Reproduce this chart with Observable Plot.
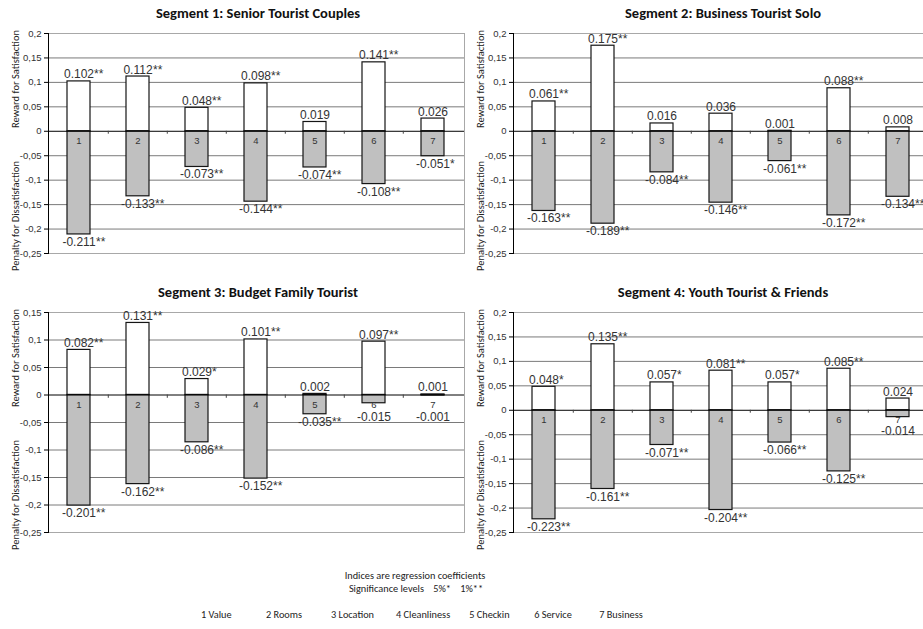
<!DOCTYPE html>
<html>
<head>
<meta charset="utf-8">
<script src="https://cdn.jsdelivr.net/npm/d3@7"></script>
<script src="https://cdn.jsdelivr.net/npm/@observablehq/plot@0.6"></script>
<style>
  body { margin: 0; background: #fff; }
  #root { position: relative; width: 923px; height: 629px; overflow: hidden; background: #fff;
          font-family: Carlito, Lato, "Open Sans", sans-serif; color: #222; }
  .panel { position: absolute; }
  .panel svg { max-width: none !important; display: block; }
  .title { position: absolute; font-weight: bold; font-size: 14.5px; white-space: nowrap;
           transform: translate(-50%, -50%); color: #111; }
  .ytitle { position: absolute; font-size: 10.5px; white-space: nowrap; color: #222;
            transform: translate(-50%, -50%) rotate(-90deg); }
  .foot { position: absolute; font-size: 10.3px; white-space: nowrap; transform: translate(-50%, -50%); color: #222; }
  .legend { position: absolute; display: flex; font-size: 10.3px; white-space: nowrap; transform: translateY(-50%); color: #222; }
  .legend span { min-width: 46px; margin-right: 19px; }
</style>
</head>
<body>
<div id="root"></div>
<script>
// ---- data ----
const categories = ["1", "2", "3", "4", "5", "6", "7"];
const categoryNames = ["Value", "Rooms", "Location", "Cleanliness", "Checkin", "Service", "Business"];
const segmentTitles = [
  "Segment 1: Senior Tourist Couples",
  "Segment 2: Business Tourist Solo",
  "Segment 3: Budget Family Tourist",
  "Segment 4: Youth Tourist & Friends"
];
const rewardTitle = "Reward for Satisfaction";
const penaltyTitle = "Penalty for Dissatisfaction";

const seg1Reward     = [0.102, 0.112, 0.048, 0.098, 0.019, 0.141, 0.026];
const seg1RewardSig  = ["**", "**", "**", "**", "", "**", ""];
const seg1Penalty    = [-0.211, -0.133, -0.073, -0.144, -0.074, -0.108, -0.051];
const seg1PenaltySig = ["**", "**", "**", "**", "**", "**", "*"];

const seg2Reward     = [0.061, 0.175, 0.016, 0.036, 0.001, 0.088, 0.008];
const seg2RewardSig  = ["**", "**", "", "", "", "**", ""];
const seg2Penalty    = [-0.163, -0.189, -0.084, -0.146, -0.061, -0.172, -0.134];
const seg2PenaltySig = ["**", "**", "**", "**", "**", "**", "**"];

const seg3Reward     = [0.082, 0.131, 0.029, 0.101, 0.002, 0.097, 0.001];
const seg3RewardSig  = ["**", "**", "*", "**", "", "**", ""];
const seg3Penalty    = [-0.201, -0.162, -0.086, -0.152, -0.035, -0.015, -0.001];
const seg3PenaltySig = ["**", "**", "**", "**", "**", "", ""];

const seg4Reward     = [0.048, 0.135, 0.057, 0.081, 0.057, 0.085, 0.024];
const seg4RewardSig  = ["*", "**", "*", "**", "*", "**", ""];
const seg4Penalty    = [-0.223, -0.161, -0.071, -0.204, -0.066, -0.125, -0.014];
const seg4PenaltySig = ["**", "**", "**", "**", "**", "**", ""];

const yTicksA = [0.2, 0.15, 0.1, 0.05, 0, -0.05, -0.1, -0.15, -0.2, -0.25];
const yTicksB = [0.15, 0.1, 0.05, 0, -0.05, -0.1, -0.15, -0.2, -0.25];

const footLine1 = "Indices are regression coefficients";
const footLine2 = "Significance levels\u00a0\u00a0\u00a0\u00a05%*\u00a0\u00a0\u00a0\u00a01%**";

// ---- layout ----
const W = 470, H = 260, ML = 48, MR = 6, MT = 13, MB = 27;
const step = (W - ML - MR) / categories.length;
const segments = [
  {title: segmentTitles[0], reward: seg1Reward, rewardSig: seg1RewardSig, penalty: seg1Penalty, penaltySig: seg1PenaltySig, ticks: yTicksA, left: 0,   top: 20},
  {title: segmentTitles[1], reward: seg2Reward, rewardSig: seg2RewardSig, penalty: seg2Penalty, penaltySig: seg2PenaltySig, ticks: yTicksA, left: 465, top: 20},
  {title: segmentTitles[2], reward: seg3Reward, rewardSig: seg3RewardSig, penalty: seg3Penalty, penaltySig: seg3PenaltySig, ticks: yTicksB, left: 0,   top: 299},
  {title: segmentTitles[3], reward: seg4Reward, rewardSig: seg4RewardSig, penalty: seg4Penalty, penaltySig: seg4PenaltySig, ticks: yTicksA, left: 465, top: 299}
];

const fmtTick = d => String(+d.toFixed(2)).replace(".", ",");
const fmtVal = d => d.value.toFixed(3);
const numFont = "'Liberation Sans', Arial, sans-serif";

function makePanel(seg) {
  const pos = categories.map((c, i) => ({cat: c, value: seg.reward[i], sig: seg.rewardSig[i]}));
  const neg = categories.map((c, i) => ({cat: c, value: seg.penalty[i], sig: seg.penaltySig[i]}));
  const lab = {fontFamily: numFont, fontSize: 12, fill: "#333"};
  return Plot.plot({
    width: W, height: H, marginLeft: ML, marginRight: MR, marginTop: MT, marginBottom: MB,
    x: {domain: categories, paddingInner: 0.61, paddingOuter: 0.305, axis: null},
    y: {domain: [-0.25, seg.ticks[0]], axis: null},
    style: {background: "transparent", fontFamily: numFont, overflow: "visible"},
    marks: [
      Plot.ruleY(seg.ticks.filter(t => t !== 0), {stroke: "#7a7a7a", strokeWidth: 1}),
      Plot.frame({stroke: "#a8a8a8"}),
      Plot.barY(pos, {x: "cat", y1: 0, y2: "value", fill: "#fff", stroke: "#151515", strokeWidth: 1.2}),
      Plot.barY(neg, {x: "cat", y1: 0, y2: "value", fill: "#c0c0c0", stroke: "#151515", strokeWidth: 1.2}),
      Plot.ruleY([0], {stroke: "#000", strokeWidth: 1}),
      Plot.ruleX(categories.slice(1), {x: d => d, y1: 0, y2: -0.006, dx: -step / 2, stroke: "#444"}),
      Plot.frame({anchor: "left", stroke: "#000"}),
      Plot.axisY({ticks: seg.ticks, tickFormat: fmtTick, tickSize: 4, tickPadding: 3, fontSize: 9.5, stroke: "#000", fill: "#333", label: null}),
      Plot.text(categories, {x: d => d, y: 0, dy: 10, fontSize: 9.5, fill: "#333", fontFamily: numFont}),
      Plot.text(pos, {x: "cat", y: "value", text: fmtVal, lineAnchor: "bottom", dy: -3, ...lab}),
      Plot.text(pos.filter(d => d.sig), {x: "cat", y: "value", text: "sig", textAnchor: "start", dx: 15, lineAnchor: "bottom", dy: -3, ...lab}),
      Plot.text(neg, {x: "cat", y: d => Math.min(d.value, -0.027), text: fmtVal, lineAnchor: "top", dy: 3, ...lab}),
      Plot.text(neg.filter(d => d.sig), {x: "cat", y: d => Math.min(d.value, -0.027), text: "sig", textAnchor: "start", dx: 17, lineAnchor: "top", dy: 3, ...lab})
    ]
  });
}

const root = document.getElementById("root");
function addDiv(cls, text, left, top) {
  const d = document.createElement("div");
  d.className = cls;
  d.textContent = text;
  d.style.left = left + "px";
  d.style.top = top + "px";
  root.appendChild(d);
  return d;
}

segments.forEach(seg => {
  const wrap = document.createElement("div");
  wrap.className = "panel";
  wrap.style.left = seg.left + "px";
  wrap.style.top = seg.top + "px";
  wrap.style.width = W + "px";
  wrap.style.height = H + "px";
  wrap.appendChild(makePanel(seg));
  root.appendChild(wrap);
  const frameTop = seg.top + MT;
  const frameLeft = seg.left + ML;
  addDiv("title", seg.title, frameLeft + (W - ML - MR) / 2 + 2, frameTop - 20);
  addDiv("ytitle", rewardTitle, frameLeft - 33, frameTop + 46);
  addDiv("ytitle", penaltyTitle, frameLeft - 33, frameTop + 183);
});

addDiv("foot", footLine1, 415, 575);
addDiv("foot", footLine2, 416, 588);
const legend = document.createElement("div");
legend.className = "legend";
legend.style.left = "201px";
legend.style.top = "614px";
categories.forEach((c, i) => {
  const s = document.createElement("span");
  s.textContent = c + " " + categoryNames[i];
  legend.appendChild(s);
});
root.appendChild(legend);
</script>
</body>
</html>
